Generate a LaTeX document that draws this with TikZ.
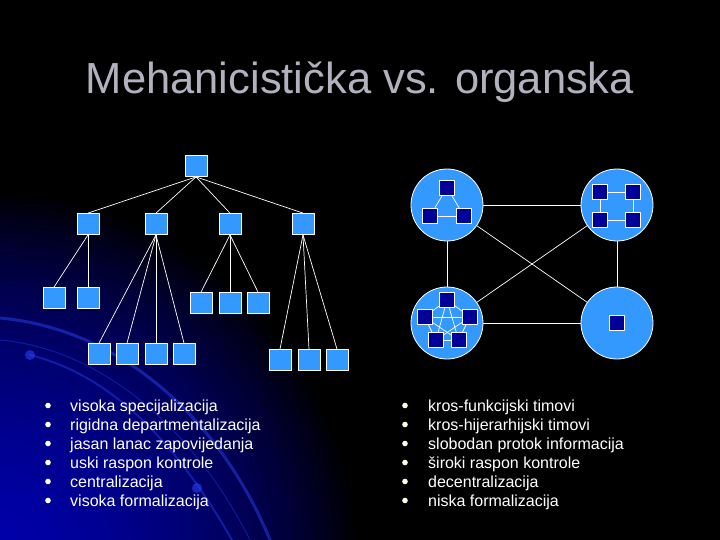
\documentclass[tikz,border=0pt]{standalone}
\usepackage{fontspec}
\setmainfont{Liberation Sans}
\definecolor{zzttff}{rgb}{0.2,0.6,1.}
\definecolor{qqqqcc}{rgb}{0.,0.,0.6}
\definecolor{qqqqff}{rgb}{0.,0.05,0.9}
\definecolor{qqttff}{rgb}{0.15,0.25,0.95}
\definecolor{ttttcc}{rgb}{0.7,0.7,0.75}
\definecolor{ffffee}{rgb}{1.,1.,0.9}

\begin{document}
\begin{tikzpicture}[x=1pt,y=-1pt,line cap=round,line join=round,
    org/.style={draw=white,line width=0.8pt,fill=zzttff,minimum width=22pt,minimum height=21pt,inner sep=0pt},
    team/.style={draw=white,line width=0.8pt,fill=zzttff,circle,minimum size=72pt,inner sep=0pt},
    member/.style={draw=white,line width=0.6pt,fill=qqqqcc,minimum size=15pt,inner sep=0pt},
    conn/.style={white,line width=0.7pt},
    itemtext/.style={white,anchor=base west,inner sep=0pt,font=\fontsize{16}{19}\selectfont}]
        \useasboundingbox (0,0) rectangle (720,540);
        % background
        \fill [black] (0,0) rectangle (720,540);
        \begin{scope}
            \clip (0,0) rectangle (720,540);
            \foreach \r in {370,360,...,10}
                \fill [qqqqff,opacity=0.042] (-15,565) circle (\r);
            \draw [line width=3pt,color=qqttff,opacity=0.5] (0,318) .. controls (130,330) and (225,430) .. (270,540);
            \draw [line width=2pt,color=qqttff,opacity=0.45] (30,355) .. controls (110,375) and (175,440) .. (232,540);
            \draw [line width=1pt,color=qqttff,opacity=0.4] (0,340) .. controls (110,350) and (200,440) .. (250,540);
            \fill [color=qqttff,opacity=0.6] (30,355) circle (5);
            \fill [color=qqttff,opacity=0.6] (197,488) circle (5);
        \end{scope}
        % title
        \node [ttttcc,anchor=base,inner sep=0pt,font=\fontsize{43.5}{50}\selectfont] (title) at (360,94) {Mehanicistička vs. organska};
        % mechanistic structure
        \node [org] (top) at (196,166) {};
        \node [org] (d1) at (88,224) {};
        \node [org] (d2) at (156,224) {};
        \node [org] (d3) at (230,224) {};
        \node [org] (d4) at (303,224) {};
        \foreach \d in {d1,d2,d3,d4}
            \draw [conn] (top.south) -- (\d.north);
        \foreach \n/\x in {1/54,2/88}
            \node [org] (d1\n) at (\x,298) {};
        \foreach \n/\x in {1/99,2/127,3/156,4/184}
            \node [org] (d2\n) at (\x,354) {};
        \foreach \n/\x in {1/201,2/230,3/258}
            \node [org] (d3\n) at (\x,303) {};
        \foreach \n/\x in {1/280,2/309,3/337}
            \node [org] (d4\n) at (\x,360) {};
        \foreach \n in {1,2}
            \draw [conn] (d1.south) -- (d1\n.north);
        \foreach \n in {1,2,3,4}
            \draw [conn] (d2.south) -- (d2\n.north);
        \foreach \n in {1,2,3}
            \draw [conn] (d3.south) -- (d3\n.north);
        \foreach \n in {1,2,3}
            \draw [conn] (d4.south) -- (d4\n.north);
        % organic structure
        \node [team] (ta) at (447,205) {};
        \node [team] (tb) at (617,205) {};
        \node [team] (tc) at (447,323) {};
        \node [team] (td) at (617,323) {};
        \foreach \a/\b in {ta/tb,ta/tc,tb/td,tc/td,ta/td,tc/tb}
            \draw [conn] (\a) -- (\b);
        \node [member] (ta1) at (447,187.5) {};
        \node [member] (ta2) at (430,216) {};
        \node [member] (ta3) at (464,216) {};
        \foreach \a/\b in {ta1/ta2,ta1/ta3,ta2/ta3}
            \draw [conn] (\a) -- (\b);
        \node [member] (tb1) at (600,192) {};
        \node [member] (tb2) at (633,192) {};
        \node [member] (tb3) at (600,220) {};
        \node [member] (tb4) at (633,220) {};
        \foreach \a/\b in {tb1/tb2,tb3/tb4,tb1/tb3,tb2/tb4}
            \draw [conn] (\a) -- (\b);
        \node [member] (tc1) at (447,300) {};
        \node [member] (tc2) at (424.5,317) {};
        \node [member] (tc3) at (470,317) {};
        \node [member] (tc4) at (436,340) {};
        \node [member] (tc5) at (458.5,340) {};
        \foreach \a/\b in {tc1/tc2,tc1/tc3,tc1/tc4,tc1/tc5,tc2/tc3,tc2/tc4,tc2/tc5,tc3/tc4,tc3/tc5,tc4/tc5}
            \draw [conn] (\a) -- (\b);
        \node [member] (td1) at (617,323) {};
        % lists
        \foreach \t [count=\i] in {visoka specijalizacija,rigidna departmentalizacija,jasan lanac zapovijedanja,uski raspon kontrole,centralizacija,visoka formalizacija}{
            \fill [ffffee] (48,{405.5+19*(\i-1)}) circle (2.8);
            \node [itemtext] (m\i) at (70,{411+19*(\i-1)}) {\t};
        }
        \foreach \t [count=\i] in {kros-funkcijski timovi,kros-hijerarhijski timovi,slobodan protok informacija,široki raspon kontrole,decentralizacija,niska formalizacija}{
            \fill [ffffee] (405,{405.5+19*(\i-1)}) circle (2.8);
            \node [itemtext] (o\i) at (428,{411+19*(\i-1)}) {\t};
        }
\end{tikzpicture}
\end{document}
